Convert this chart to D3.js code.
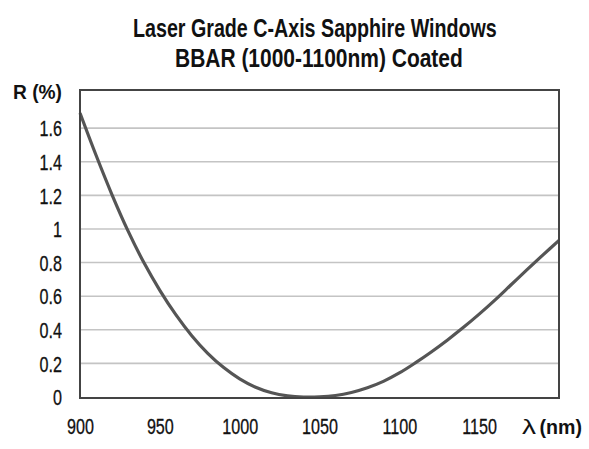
<!DOCTYPE html>
<html><head><meta charset="utf-8">
<script src="https://cdn.jsdelivr.net/npm/d3@7"></script>
<style>
body{margin:0;background:#fff;}
text{font-family:"Liberation Sans",Arial,sans-serif;fill:#111;}
</style></head>
<body><svg id="c" width="589" height="449"></svg>
<script>
const titleLines = ["Laser Grade C-Axis Sapphire Windows", "BBAR (1000-1100nm) Coated"];
const wavelengths = [900,910,920,930,940,950,960,970,980,990,1000,1010,1020,1030,1040,1050,1060,1070,1080,1090,1100,1110,1120,1130,1140,1150,1160,1170,1180,1190,1200];
const reflectance = [1.69,1.44,1.205,0.99,0.80,0.635,0.49,0.365,0.26,0.175,0.108,0.058,0.025,0.007,0.0,0.001,0.009,0.027,0.055,0.093,0.143,0.203,0.268,0.338,0.413,0.493,0.578,0.668,0.758,0.846,0.932];
const xTicks = [900,950,1000,1050,1100,1150];
const yTicks = [0,0.2,0.4,0.6,0.8,1,1.2,1.4,1.6];
const yLabel = "R (%)";
const xLabelSym = "λ", xLabelUnit = "(nm)";

const svg = d3.select("#c");
const L=80, R=559, T=90, B=397;
const x = d3.scaleLinear().domain([900,1200]).range([L,R]);
const y = d3.scaleLinear().domain([0,1.827]).range([B,T]);
const SX = 0.75;

// grid
svg.append("g").selectAll("line").data(yTicks.filter(d=>d>0)).join("line")
  .attr("x1",L).attr("x2",R).attr("y1",d=>y(d)).attr("y2",d=>y(d))
  .attr("stroke","#c4c4c4").attr("stroke-width",1.6);

// curve
const line = d3.line().x((d,i)=>x(wavelengths[i])).y(d=>y(d)).curve(d3.curveCatmullRom);
svg.append("path").datum(reflectance).attr("d",line)
  .attr("fill","none").attr("stroke","#555").attr("stroke-width",3.2);

// frame
svg.append("rect").attr("x",L).attr("y",T).attr("width",R-L).attr("height",B+1-T)
  .attr("fill","none").attr("stroke","#444").attr("stroke-width",2);

// y tick labels
const yAxis = d3.axisLeft(y).tickValues(yTicks).tickSize(0).tickPadding(0).tickFormat(d=>String(d));
const gy = svg.append("g").attr("transform",`translate(62,0)`).call(yAxis);
gy.select(".domain").remove();
gy.selectAll("text").attr("x",0).attr("dy","0.36em").attr("transform",`scale(${SX},1)`)
  .style("font-family",'"Liberation Sans",sans-serif').style("font-size","21.5px").attr("fill","#111")
  .attr("stroke","#111").attr("stroke-width",0.3);

// x tick labels
const xAxis = d3.axisBottom(x).tickValues(xTicks).tickSize(0).tickPadding(0).tickFormat(d=>String(d));
const gx = svg.append("g").attr("transform",`translate(0,434)`).call(xAxis);
gx.select(".domain").remove();
gx.selectAll("text").attr("y",0).attr("dy",0).attr("transform",`scale(${SX},1)`)
  .style("font-family",'"Liberation Sans",sans-serif').style("font-size","21.5px").attr("fill","#111")
  .attr("stroke","#111").attr("stroke-width",0.3);

// helper: place text left-aligned, squeezed to a target width
function fitText(sel, x0, target){
  const w = sel.node().getComputedTextLength();
  sel.attr("x",0).attr("transform",`translate(${x0},${sel.attr("data-y")}) scale(${target/w},1)`).attr("y",0);
}
const yl = svg.append("text").attr("data-y",99).style("font-size","20px").style("font-weight","bold").text(yLabel);
fitText(yl, 13, 49);
const ls = svg.append("text").attr("data-y",434).style("font-size","21px").text(xLabelSym);
fitText(ls, 522, 14);
const lu = svg.append("text").attr("data-y",434).style("font-size","20px").style("font-weight","bold").text(xLabelUnit);
fitText(lu, 539.5, 42.5);

// title
const tl = [[133,364],[175,288]];
svg.append("g").selectAll("text").data(titleLines).join("text")
  .attr("data-y",(d,i)=>36.5+i*30.5)
  .style("font-size","25px").style("font-weight","bold").text(d=>d)
  .each(function(d,i){ fitText(d3.select(this), tl[i][0], tl[i][1]); });
</script></body></html>
